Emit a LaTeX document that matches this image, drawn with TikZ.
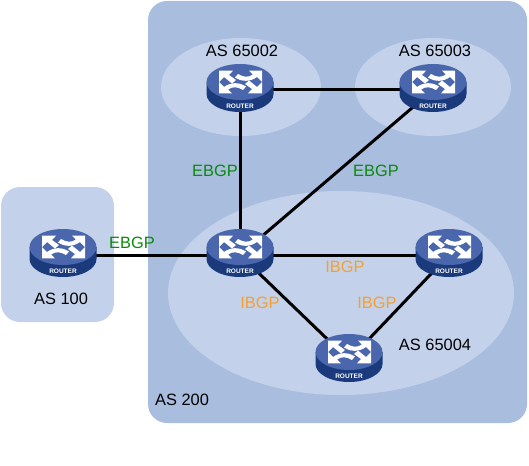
\documentclass[tikz,border=0pt]{standalone}
\usepackage{fontspec}
\setmainfont{Liberation Sans}
\definecolor{bgdark}{HTML}{A9BDDF}
\definecolor{bglight}{HTML}{C3D2EA}
\definecolor{rtop}{HTML}{4A66AC}
\definecolor{rside}{HTML}{1A3A7C}
\definecolor{ebgp}{HTML}{0A8A0A}
\definecolor{ibgp}{HTML}{F5A030}
\newcommand{\arrowpair}{%
  \fill[white] (-21,-19.3) -- (-7,-19.3) -- (-11,-15) -- (-4,-10) -- (-8,-6.5) -- (-16,-13) -- (-21,-8) -- cycle;
  \fill[white] (22,-19.3) -- (9,-19.3) -- (13,-15.5) .. controls (8,-12) and (3,-13) .. (-2,-16) -- (-5,-12.5) .. controls (2,-8) and (10,-8) .. (17,-13) -- (22,-8) -- cycle;
}
\tikzset{
  x=1pt,y=-1pt,
  zone/.style={fill=bglight,draw=none},
  link/.style={draw=black,line width=3pt},
  aslabel/.style={font=\fontsize{16.4}{18}\selectfont,text=black,inner sep=0pt},
  ebgplabel/.style={font=\fontsize{16.4}{18}\selectfont,text=ebgp,inner sep=0pt},
  ibgplabel/.style={font=\fontsize{16.4}{18}\selectfont,text=ibgp,inner sep=0pt},
  hub/.style={coordinate},
  router/.pic={
    \fill[rside] (-33.5,-8) -- (-33.5,4) arc[start angle=180,end angle=0,x radius=33.5,y radius=18] -- (33.5,-8) -- cycle;
    \fill[rtop] (0,-8) ellipse[x radius=33.5,y radius=18];
    \arrowpair
    \begin{scope}[rotate around={180:(0.5,-8)}]
      \arrowpair
    \end{scope}
    \node[text=white,inner sep=0pt,font=\fontsize{6.5}{6.5}\selectfont\bfseries] at (0,16) {ROUTER};
  }
}
\begin{document}
\begin{tikzpicture}
\useasboundingbox (0,0) rectangle (529,465);
\fill[bgdark,rounded corners=19pt] (148,1) rectangle (527,423);
\fill[bglight,rounded corners=19pt] (1,187) rectangle (114,322);
\fill[zone] (241,87) ellipse[x radius=80,y radius=49];
\fill[zone] (433,87) ellipse[x radius=78,y radius=49];
\fill[zone] (341,293) ellipse[x radius=173,y radius=102];
\node[hub] (r100) at (63,255) {};
\node[hub] (r2) at (240,90) {};
\node[hub] (r3) at (433,90) {};
\node[hub] (rc) at (240,255) {};
\node[hub] (rr) at (449,255) {};
\node[hub] (rb) at (349,360) {};
\draw[link] (r100) -- (rc);
\draw[link] (r2) -- (r3);
\draw[link] (r2) -- (rc);
\draw[link] (r3) -- (rc);
\draw[link] (rc) -- (rr);
\draw[link] (rc) -- (rb);
\draw[link] (rr) -- (rb);
\foreach \n in {r100,r2,r3,rc,rr,rb} \pic at (\n) {router};
\node[aslabel] (l2) at (242,51) {AS 65002};
\node[aslabel] (l3) at (435,51) {AS 65003};
\node[aslabel] (l4) at (435,345) {AS 65004};
\node[aslabel] (l100) at (61,299) {AS 100};
\node[aslabel] (l200) at (182,400) {AS 200};
\node[ebgplabel] (e1) at (132,243) {EBGP};
\node[ebgplabel] (e2) at (215,171) {EBGP};
\node[ebgplabel] (e3) at (376,171) {EBGP};
\node[ibgplabel] (i1) at (345,267) {IBGP};
\node[ibgplabel] (i2) at (260,303) {IBGP};
\node[ibgplabel] (i3) at (377,303) {IBGP};
\end{tikzpicture}
\end{document}
